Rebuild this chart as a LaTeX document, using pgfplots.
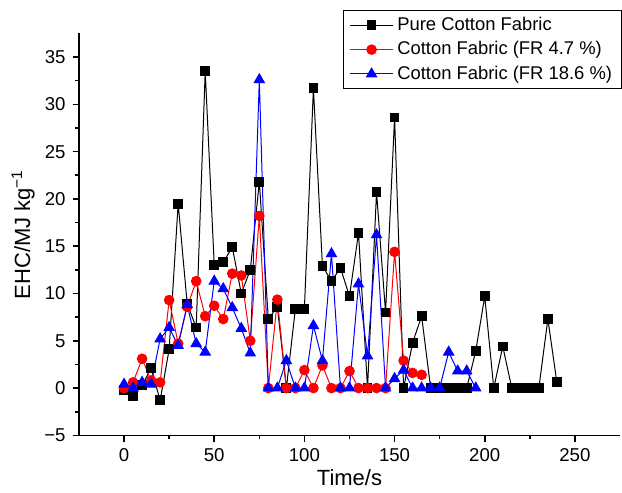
\documentclass[border=0pt]{standalone}
\usepackage{fontspec}
\setmainfont{Liberation Sans}
\usepackage{pgfplots}
\pgfplotsset{compat=1.18}

\definecolor{ehcRed}{RGB}{255,0,0}
\definecolor{ehcBlue}{RGB}{0,0,255}

\begin{document}
\begin{tikzpicture}
\begin{axis}[
  scale only axis,
  width=270.5pt, height=201pt,
  xmin=-25, xmax=275, ymin=-5, ymax=37.5,
  axis x line*=bottom, axis y line*=left,
  axis line style={line width=0.8pt},
  tick align=outside, tick style={line width=0.8pt, black},
  major tick length=3.2pt, minor tick length=2pt,
  minor x tick num=1, minor y tick num=1,
  xtick={0,50,100,150,200,250},
  xticklabels={0,50,100,150,200,250},
  ytick={-5,0,5,10,15,20,25,30,35},
  yticklabels={−5,0,5,10,15,20,25,30,35},
  tick label style={font=\fontsize{9.3}{11}\selectfont},
  xlabel={Time/s}, ylabel={EHC/MJ kg\textsuperscript{−1}},
  label style={font=\fontsize{11}{13}\selectfont},
  xlabel style={yshift=3pt}, ylabel style={yshift=-2pt},
  legend style={at={(1.004,1.058)}, anchor=north east, draw=black, line width=0.5pt,
    font=\fontsize{9.2}{11.5}\selectfont, inner xsep=3pt, inner ysep=1.5pt, row sep=0.4pt,
    nodes={inner sep=1.8pt}},
  legend cell align=left,
  legend image code/.code={\draw[mark repeat=2,mark phase=2] plot coordinates {(0cm,0cm)(0.38cm,0cm)(0.76cm,0cm)};},
  clip=false,
  every axis plot/.append style={line width=0.5pt},
]
\addplot[black, mark=square*, mark size=2.2pt, mark options={solid}] coordinates {
(0,-0.2)(5,-0.8)(10,0.3)(15,2.1)(20,-1.3)(25,4.1)(30,19.5)(35,8.9)(40,6.4)(45,33.5)
(50,13.0)(55,13.3)(60,14.9)(65,10.0)(70,12.5)(75,21.8)(80,7.3)(85,8.6)(90,0)(95,8.4)
(100,8.4)(105,31.7)(110,12.9)(115,11.3)(120,12.7)(125,9.7)(130,16.4)(135,0)(140,20.7)(145,8.0)
(150,28.6)(155,0)(160,4.8)(165,7.6)(170,0)(175,0)(180,0)(185,0)(190,0)(195,3.9)
(200,9.7)(205,0)(210,4.4)(215,0)(220,0)(225,0)(230,0)(235,7.3)(240,0.6)};
\addlegendentry{Pure Cotton Fabric}
\addplot[ehcRed, mark=*, mark size=2.4pt, mark options={solid}] coordinates {
(0,0)(5,0.6)(10,3.1)(15,0.8)(20,0.6)(25,9.3)(30,4.7)(35,8.6)(40,11.3)(45,7.6)
(50,8.7)(55,7.3)(60,12.1)(65,11.9)(70,5.0)(75,18.2)(80,0)(85,9.35)(90,0)(95,0)
(100,1.9)(105,0)(110,2.4)(115,0)(120,0)(125,1.8)(130,0)(135,0)(140,0)(145,0)
(150,14.4)(155,2.9)(160,1.6)(165,1.4)};
\addlegendentry{Cotton Fabric (FR 4.7 \%)}
\addplot[ehcBlue, mark=triangle*, mark size=2.9pt, mark options={solid}] coordinates {
(0,0.4)(5,0)(10,0.6)(15,0.4)(20,5.2)(25,6.4)(30,4.5)(35,8.8)(40,4.7)(45,3.8)
(50,11.3)(55,10.5)(60,8.5)(65,6.3)(70,3.7)(75,32.6)(80,0)(85,0)(90,2.9)(95,0)
(100,0)(105,6.6)(110,2.9)(115,14.2)(120,0)(125,0)(130,11.0)(135,3.4)(140,16.2)(145,0)
(150,1.0)(155,1.9)(160,0)(165,0)(170,0)(175,0)(180,3.8)(185,1.8)(190,1.8)(195,0)};
\addlegendentry{Cotton Fabric (FR 18.6 \%)}
\coordinate (bbSW) at (rel axis cs:-0.146,-0.141);
\coordinate (bbNE) at (rel axis cs:1.0037,1.083);
\end{axis}
\pgfresetboundingbox
\path (bbSW) rectangle (bbNE);
\end{tikzpicture}
\end{document}
